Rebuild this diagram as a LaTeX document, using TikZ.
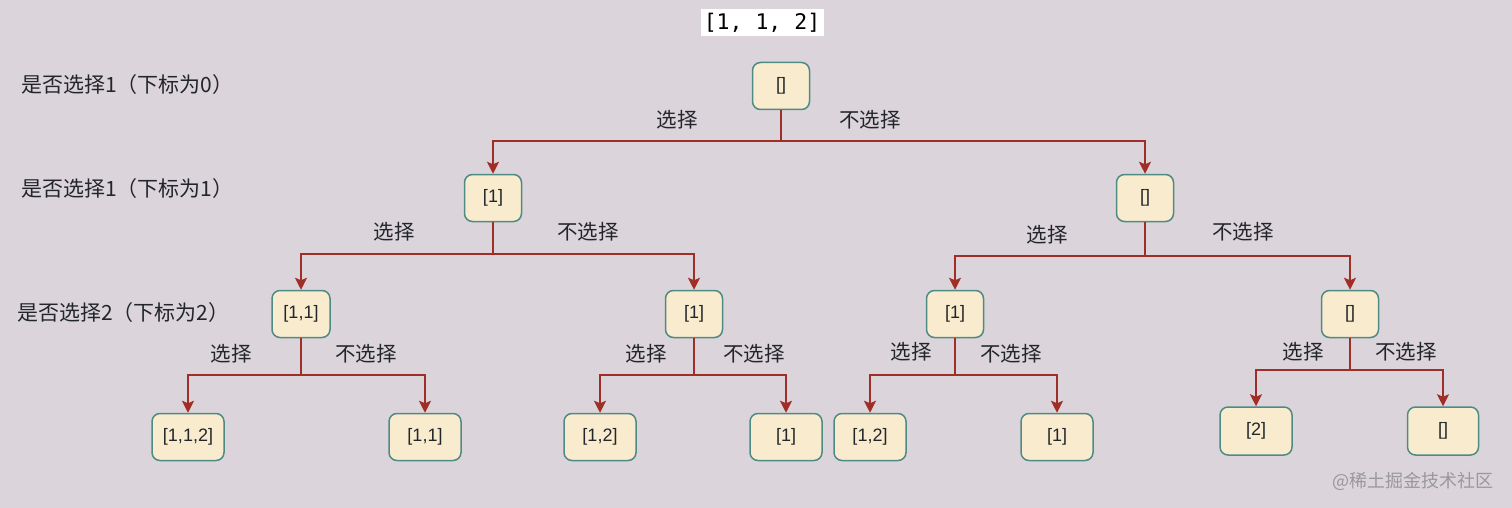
\documentclass[tikz,border=0pt]{standalone}
\usepackage{fontspec}
\setmainfont{Noto Sans CJK SC}
\newfontfamily\monof{DejaVu Sans Mono}
\newfontfamily\nodef{Liberation Sans}
\usetikzlibrary{arrows.meta}
\definecolor{bgc}{RGB}{220,212,219}
\definecolor{nodefill}{RGB}{249,236,206}
\definecolor{nodeline}{RGB}{78,139,133}
\definecolor{edgec}{RGB}{160,45,38}
\definecolor{txt}{RGB}{34,38,42}
\tikzset{
  box/.style={draw=nodeline, fill=nodefill, line width=1.5pt, rounded corners=8pt,
    minimum height=47pt, text=txt, font=\nodef\fontsize{18}{20}\selectfont, inner sep=0pt},
  sbox/.style={box, minimum width=57pt},
  wbox/.style={box, minimum width=72pt},
  conn/.style={draw=edgec, line width=1.5pt},
  arr/.style={conn, -{Stealth[length=12pt,width=12pt,inset=2.5pt]}},
  lab/.style={text=txt, font=\fontsize{20.5}{22}\selectfont, inner sep=0pt},
  side/.style={text=txt, font=\fontsize{21}{23}\selectfont, inner sep=0pt, anchor=west},
}
\begin{document}
\begin{tikzpicture}[x=1pt,y=-1pt]
\fill[bgc] (0,0) rectangle (1512,508);
\useasboundingbox (0,0) rectangle (1512,508);

% title
\node[fill=white, text=black, font=\monof\fontsize{21.5}{23}\selectfont, minimum width=123pt, minimum height=27pt, inner sep=0pt] (title) at (762,23) {[1, 1, 2]};

% side labels
\node[side] (s0) at (21,85) {是否选择1（下标为0）};
\node[side] (s1) at (21,189) {是否选择1（下标为1）};
\node[side] (s2) at (17,313) {是否选择2（下标为2）};

% nodes
\node[sbox] (r) at (781,86) {[]};
\node[sbox] (a) at (493,198) {[1]};
\node[sbox] (b) at (1145,198) {[]};
\node[sbox, minimum width=58pt] (aa) at (301,314) {[1,1]};
\node[sbox] (ab) at (694,314) {[1]};
\node[sbox] (ba) at (955,314) {[1]};
\node[sbox] (bb) at (1350,314) {[]};
\node[wbox] (aaa) at (188,437) {[1,1,2]};
\node[wbox] (aab) at (425,437) {[1,1]};
\node[wbox] (aba) at (600,437) {[1,2]};
\node[wbox] (abb) at (786,437) {[1]};
\node[wbox] (baa) at (870,437) {[1,2]};
\node[wbox] (bab) at (1057,437) {[1]};
\node[wbox, minimum height=48pt] (bba) at (1256,431) {[2]};
\node[wbox, minimum width=71pt, minimum height=48pt] (bbb) at (1443,431) {[]};

% junctions
\coordinate (jr) at (781,141);
\coordinate (ja) at (493,254);
\coordinate (jb) at (1145,256);
\coordinate (jaa) at (301,375);
\coordinate (jab) at (694,375);
\coordinate (jba) at (955,375);
\coordinate (jbb) at (1350,370);

\foreach \p/\j/\l/\r in {r/jr/a/b, a/ja/aa/ab, b/jb/ba/bb, aa/jaa/aaa/aab, ab/jab/aba/abb, ba/jba/baa/bab, bb/jbb/bba/bbb}{
  \draw[conn] (\p) -- (\j);
  \draw[arr] (\j) -| (\l);
  \draw[arr] (\j) -| (\r);
}

% edge labels
\node[lab] (l1) at (677,120) {选择};
\node[lab] (l2) at (870,120) {不选择};
\node[lab] (l3) at (394,232) {选择};
\node[lab] (l4) at (588,232) {不选择};
\node[lab] (l5) at (1047,235) {选择};
\node[lab] (l6) at (1243,232) {不选择};
\node[lab] (l7) at (231,354) {选择};
\node[lab] (l8) at (366,354) {不选择};
\node[lab] (l9) at (646,354) {选择};
\node[lab] (l10) at (754,354) {不选择};
\node[lab] (l11) at (911,352) {选择};
\node[lab] (l12) at (1011,354) {不选择};
\node[lab] (l13) at (1303,352) {选择};
\node[lab] (l14) at (1406,352) {不选择};

% watermark
\node[text=gray!80, font=\fontsize{18}{20}\selectfont, inner sep=0pt] (wm) at (1413,481) {@稀土掘金技术社区};
\end{tikzpicture}
\end{document}
